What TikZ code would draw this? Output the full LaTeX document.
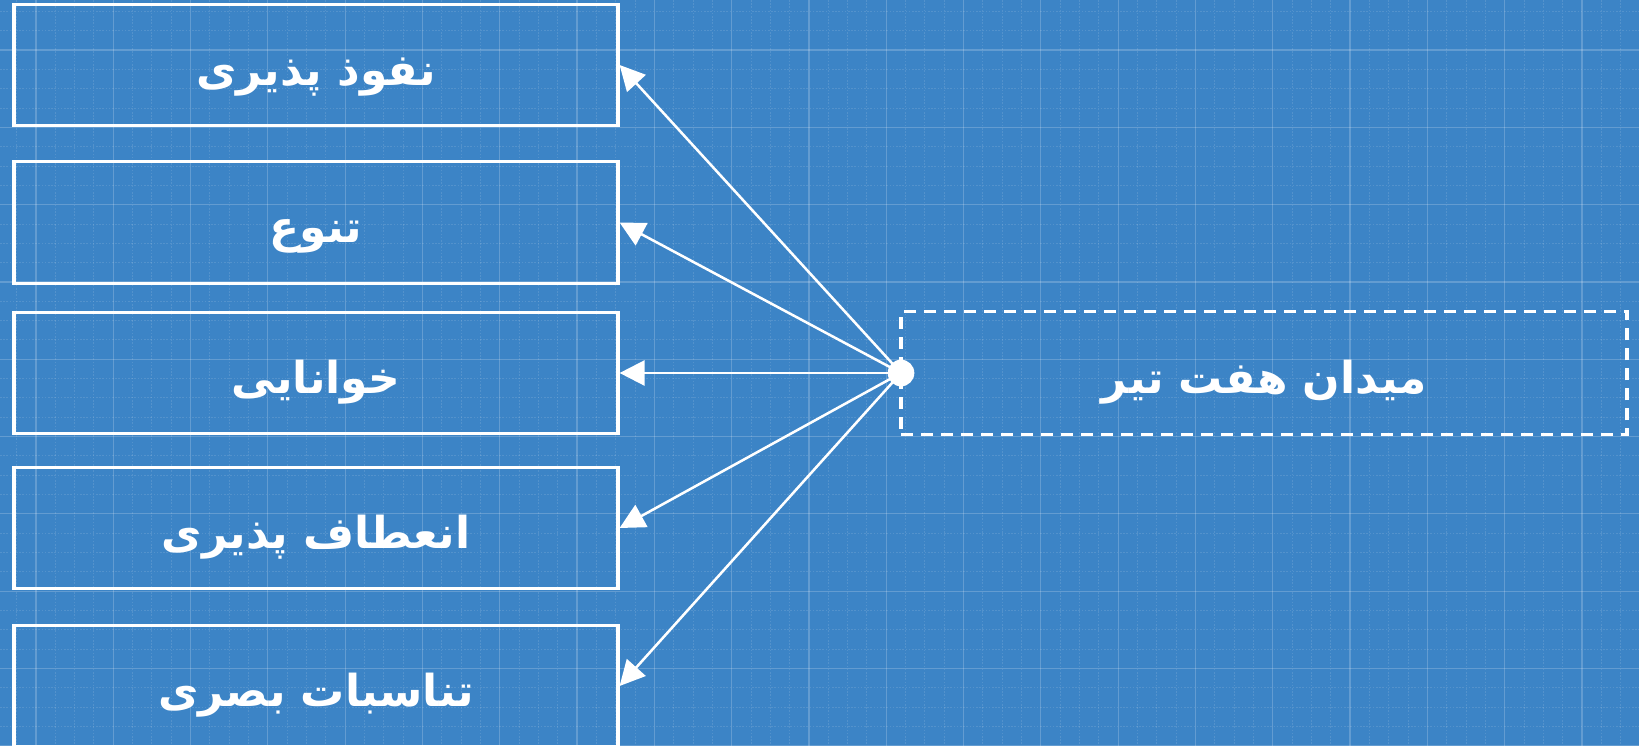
\documentclass[tikz,border=0pt]{standalone}
\usepackage{fontspec}
\usetikzlibrary{arrows.meta}
\TeXXeTstate=1
\newfontfamily\fa[Script=Arabic]{DejaVu Sans}
\definecolor{bpbg}{HTML}{3C84C6}
\tikzset{
  boxtext/.style={text=white, font=\fa\bfseries\fontsize{33}{40}\selectfont, text height=30pt, text depth=0pt},
  itembox/.style={draw=white, line width=2.4pt, minimum width=453pt, minimum height=91pt, inner sep=0pt, boxtext},
  mainbox/.style={draw=white, line width=2.4pt, dash pattern=on 9pt off 6pt, minimum width=544.5pt, minimum height=92pt, inner sep=0pt, boxtext},
  link/.style={draw=white, line width=1.9pt, -{Triangle[length=18.75pt,width=18.75pt]}},
  minorgrid/.style={white, opacity=0.12, line width=0.6pt, dash pattern=on 1.2pt off 1.2pt},
  majorgrid/.style={white, opacity=0.2, line width=0.9pt}
}
\begin{document}
\begin{tikzpicture}[x=0.75pt,y=-0.75pt]
\fill[bpbg] (0,0) rectangle (1639,746);
\useasboundingbox (0,0) rectangle (1639,746);
\begin{scope}
\clip (0,0) rectangle (1639,746);
\foreach \k in {0,...,84}{
  \pgfmathsetmacro{\xx}{16.575+\k*19.325}
  \pgfmathtruncatemacro{\m}{mod(\k,4)}
  \ifnum\m=1 \draw[majorgrid] (\xx,0) -- (\xx,746); \else \draw[minorgrid] (\xx,0) -- (\xx,746); \fi
}
\foreach \k in {0,...,38}{
  \pgfmathsetmacro{\yy}{11.35+\k*19.325}
  \pgfmathtruncatemacro{\m}{mod(\k,4)}
  \ifnum\m=2 \draw[majorgrid] (0,\yy) -- (1639,\yy); \else \draw[minorgrid] (0,\yy) -- (1639,\yy); \fi
}
\node[itembox] (b1) at (316,65) {\beginR نفوذ پذیری\endR};
\node[itembox] (b2) at (316,222.5) {\beginR تنوع\endR};
\node[itembox] (b3) at (316,373) {\beginR خوانایی\endR};
\node[itembox] (b4) at (316,528) {\beginR انعطاف پذیری\endR};
\node[itembox] (b5) at (316,686) {\beginR تناسبات بصری\endR};
\node[mainbox] (m) at (1264,373) {\beginR میدان هفت تیر\endR};
\node[circle, fill=white, minimum size=20pt, inner sep=0pt] (dot) at (901,373) {};
\draw[link] (dot.center) -- (b1.east);
\draw[link] (dot.center) -- (b2.east);
\draw[link] (dot.center) -- (b3.east);
\draw[link] (dot.center) -- (b4.east);
\draw[link] (dot.center) -- (b5.east);
\end{scope}
\end{tikzpicture}
\end{document}
